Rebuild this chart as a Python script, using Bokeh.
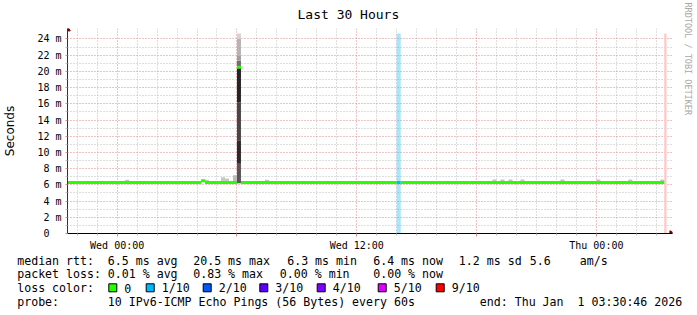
import math
from bokeh.plotting import figure
from bokeh.layouts import column
from bokeh.models import Range1d, FixedTicker, Title
from bokeh.core.properties import value
from bokeh.embed import file_html
from bokeh.resources import INLINE

MONO = "DejaVu Sans Mono"

# ---------------- data (hours relative to Wed 00:00, values in ms) ----------------
view_start_h = -2.48722          # Tue 21:30:46
view_end_h = 27.51278            # Thu 03:30:46
value_max_ms = 24.67

time_ticks = [0, 6, 12, 18, 24]
time_tick_labels = ["Wed 00:00", "", "Wed 12:00", "", "Thu 00:00"]
time_minor_ticks = [-2, -1, 1, 2, 3, 4, 5, 7, 8, 9, 10, 11, 13, 14, 15, 16, 17,
                    19, 20, 21, 22, 23, 25, 26, 27]
value_ticks = [0, 2, 4, 6, 8, 10, 12, 14, 16, 18, 20, 22, 24]
value_tick_labels = ["0\u00a0\u00a0", "2 m", "4 m", "6 m", "8 m", "10 m", "12 m",
                     "14 m", "16 m", "18 m", "20 m", "22 m", "24 m"]
value_minor_ticks = [1, 3, 5, 7, 9, 11, 13, 15, 17, 19, 21, 23]

# median rtt runs (12-minute bins)
median_start_h = [-2.6, 4.2, 4.4, 6.0, 6.2, 14.0, 14.2]
median_end_h = [4.2, 4.4, 6.0, 6.2, 14.0, 14.2, 27.4]
median_ms = [6.3, 6.5, 6.3, 20.5, 6.3, 6.3, 6.3]
median_loss_tenths = [0, 0, 0, 0, 0, 1, 0]

# smoke (ping spread) per bin
smoke_start_h = [0.4, 4.4, 5.2, 5.4, 5.8, 7.4, 18.8, 19.2, 19.6, 20.2, 22.2, 24.0, 25.6, 27.2,
                 6.0, 6.0, 6.0, 6.0, 6.0, 6.0, 6.0, 6.0]
smoke_low_ms = [6.1, 6.1, 6.1, 6.1, 6.1, 6.1, 6.1, 6.1, 6.1, 6.1, 6.1, 6.1, 6.1, 6.1,
                6.2, 8.6, 11.5, 16.2, 20.6, 21.3, 21.9, 24.0]
smoke_high_ms = [6.62, 6.6, 6.93, 6.77, 7.17, 6.62, 6.65, 6.65, 6.65, 6.65, 6.65, 6.65, 6.65, 6.65,
                 8.6, 11.5, 16.2, 20.6, 21.3, 21.9, 24.0, 24.67]
smoke_shade = ["#c4c4c4", "#c4c4c4", "#c8c8c8", "#c8c8c8", "#bcbcbc", "#c4c4c4", "#c4c4c4",
               "#c4c4c4", "#c4c4c4", "#c4c4c4", "#c4c4c4", "#c4c4c4", "#c4c4c4", "#c4c4c4",
               "#555555", "#2a2a2a", "#474747", "#242424", "#6e6e6e", "#9e9e9e", "#b4b4b4", "#d4d4d4"]
bin_h = 0.2

nodata_start_h = [27.4]

loss_levels = ["0", "1/10", "2/10", "3/10", "4/10", "5/10", "9/10"]
loss_tenths = [0, 1, 2, 3, 4, 5, 9]
loss_colors = ["#26ff00", "#00b8ff", "#0059ff", "#5e00ff", "#7e00ff", "#dd00ff", "#ff0000"]

rtt_texts = ["median rtt:", "6.5 ms avg", "20.5 ms max", "6.3 ms min", "6.4 ms now",
             "1.2 ms sd", "5.6", "am/s"]
loss_texts = ["packet loss:", "0.01 % avg", "0.83 % max", "0.00 % min", "0.00 % now"]
probe_texts = ["probe:", "10 IPv6-ICMP Echo Pings (56 Bytes) every 60s",
               "end: Thu Jan\u00a0\u00a01 03:30:46 2026"]

# ---------------- layout helpers (pixel -> data of the main plot) ----------------
# data area: x 66..666 px (30 h), y 233..33 px (0..value_max_ms); the frame is a few
# pixels larger so the axis lines run on past it into small arrow heads.
FL, FW, FB, FH = 66, 600, 233, 200
FRAME_RIGHT, FRAME_TOP = 672, 28


def X(px):
    return view_start_h + (px - FL) / FW * (view_end_h - view_start_h)


def Y(py):
    return (FB - py) / FH * value_max_ms


p = figure(width=697, height=253, output_backend="svg", toolbar_location=None,
           x_range=Range1d(view_start_h, X(FRAME_RIGHT)), y_range=Range1d(0, Y(FRAME_TOP)),
           min_border_left=FL, min_border_right=697 - FRAME_RIGHT, min_border_top=FRAME_TOP,
           min_border_bottom=20, background_fill_color="white", border_fill_color="white")
p.outline_line_color = None

# spacer next to the frame, then the real title stacked above it
p.title.text = ""
p.add_layout(Title(text="\u00a0", text_font_size="1px", standoff=4), "above")
p.add_layout(Title(text="Last 30 Hours", align="left", offset=230, standoff=0,
                   text_font=MONO, text_font_size="13px", text_font_style="normal",
                   text_color="black"), "above")

GRID_MAJ = "#d98c8c"
GRID_MIN = "#bdbdbd"

p.xaxis.ticker = FixedTicker(ticks=time_ticks, minor_ticks=time_minor_ticks)
p.xaxis.major_label_overrides = dict(zip(time_ticks, time_tick_labels))
p.yaxis.ticker = FixedTicker(ticks=value_ticks, minor_ticks=value_minor_ticks)
p.yaxis.major_label_overrides = dict(zip(value_ticks, value_tick_labels))

for ax in (p.xaxis, p.yaxis):
    ax.major_label_text_font = MONO
    ax.major_label_text_font_size = "10px"
    ax.major_label_text_color = "black"
    ax.major_tick_in = 0
    ax.minor_tick_in = 0
    ax.major_tick_line_color = GRID_MAJ
    ax.minor_tick_line_color = GRID_MIN
p.xaxis.axis_line_color = "black"
p.yaxis.axis_line_color = "#333333"
p.xaxis.major_tick_out = 3
p.xaxis.minor_tick_out = 2
p.xaxis.major_label_standoff = 3
p.yaxis.major_tick_out = 2
p.yaxis.minor_tick_out = 2
p.yaxis.major_label_standoff = 4
p.yaxis.axis_label = "Seconds"
p.yaxis.axis_label_text_font = "DejaVu Sans"
p.yaxis.axis_label_text_font_size = "12px"
p.yaxis.axis_label_text_font_style = "normal"
p.yaxis.axis_label_text_color = "black"
p.yaxis.axis_label_standoff = 17

for g in (p.xgrid, p.ygrid):
    g.grid_line_color = GRID_MAJ
    g.grid_line_dash = "1 2"
    g.minor_grid_line_color = GRID_MIN
    g.minor_grid_line_dash = "1 2"

# loss background bars
lb_l, lb_r, lb_c = [], [], []
for s, e, l in zip(median_start_h, median_end_h, median_loss_tenths):
    if l > 0:
        lb_l.append(s)
        lb_r.append(e)
        lb_c.append(loss_colors[loss_tenths.index(l)])
p.quad(left=lb_l, right=lb_r, bottom=0, top=value_max_ms, fill_color=lb_c, fill_alpha=0.35,
       line_color=None)

# unknown (no data yet) region up to the end of the view
p.quad(left=nodata_start_h, right=[view_end_h], bottom=0, top=value_max_ms,
       fill_color="#ffc8c8", line_color=None)

# smoke
p.quad(left=smoke_start_h, right=[s + bin_h for s in smoke_start_h],
       bottom=smoke_low_ms, top=smoke_high_ms, fill_color=smoke_shade, line_color=None)

# median
med_colors = [loss_colors[loss_tenths.index(l)] for l in median_loss_tenths]
p.segment(x0=median_start_h, x1=median_end_h, y0=median_ms, y1=median_ms,
          line_color=med_colors, line_width=3, line_cap="butt")

# axis arrow heads
AR = "#7a0000"
p.scatter(x=[view_start_h], y=[Y(28.8)], marker="triangle", size=5.5,
          fill_color=AR, line_color=AR)
p.scatter(x=[X(671)], y=[0], marker="triangle", angle=-math.pi / 2, size=5.5,
          fill_color=AR, line_color=AR)

# watermark on the right (spacer first, next to the frame)
p.add_layout(Title(text="\u00a0", text_font_size="1px", standoff=7), "right")
p.add_layout(Title(text="RRDTOOL / TOBI OETIKER", align="left", offset=-26, standoff=0,
                   text_font=MONO, text_font_size="8.5px", text_font_style="normal",
                   text_color="#a8a8a8"), "right")

# ---------------- legend / statistics strip (canvas pixel coordinates) ----------------
q = figure(width=697, height=62, output_backend="svg", toolbar_location=None,
           x_range=Range1d(0, 697), y_range=Range1d(315, 253),
           x_axis_type=None, y_axis_type=None,
           min_border_left=0, min_border_right=0, min_border_top=0, min_border_bottom=0,
           background_fill_color="white", border_fill_color="white")
q.outline_line_color = None
q.grid.visible = False

for fig in (p, q):
    if "frame_align" in fig.properties():
        fig.frame_align = False

tx, ty, tt = [], [], []
for px, s in zip([16.7, 107.3, 192.7, 286.7, 372.7, 458.3, 529.3, 579.3], rtt_texts):
    tx.append(px); ty.append(260); tt.append(s)
for px, s in zip([16.7, 107.3, 192.7, 279.3, 372.7], loss_texts):
    tx.append(px); ty.append(273.5); tt.append(s)
tx.append(16.7); ty.append(287.5); tt.append("loss color:")
box_x = [108.3, 145.7, 202.7, 259.3, 316.7, 377.7, 435.7]
for bx, lab in zip(box_x, loss_levels):
    tx.append(bx + 15.5); ty.append(287.5); tt.append(lab)
for px, s in zip([16.7, 107.3, 479.3], probe_texts):
    tx.append(px); ty.append(301.5); tt.append(s)

q.text(x=tx, y=ty, text=tt, text_font=value(MONO), text_font_size=value("11.6px"),
       text_align="left", text_baseline="middle", text_color="black")
q.quad(left=box_x, right=[b + 8 for b in box_x], top=[283.3] * len(box_x),
       bottom=[291.3] * len(box_x), fill_color=loss_colors, line_color="black", line_width=1)

layout = column(p, q, spacing=0)
open("out.html", "w").write(file_html(layout, INLINE))
